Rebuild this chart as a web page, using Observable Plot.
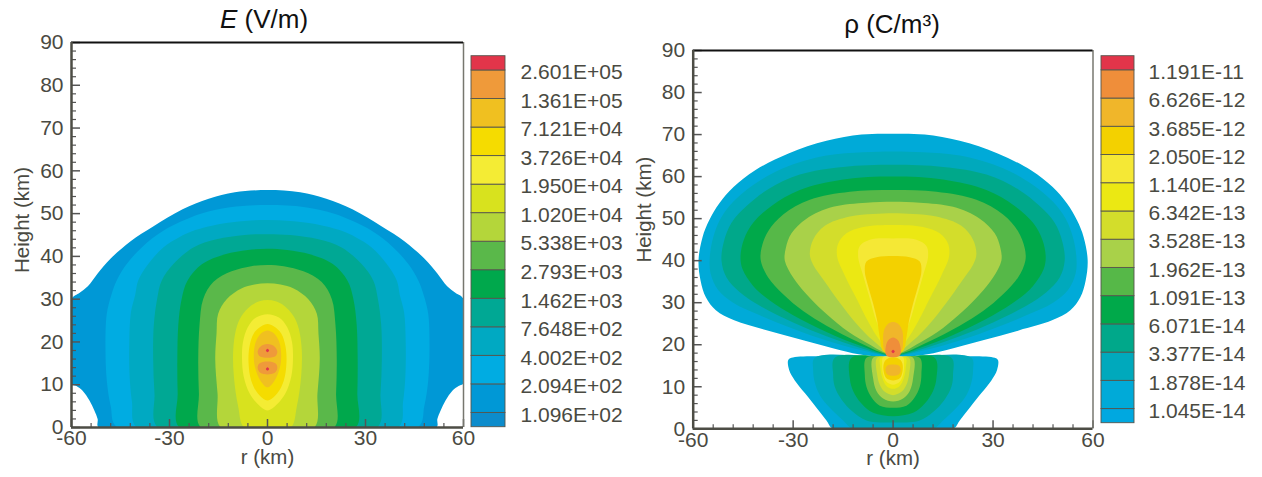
<!DOCTYPE html>
<html><head><meta charset="utf-8">
<script src="https://cdn.jsdelivr.net/npm/d3@7"></script>
<script src="https://cdn.jsdelivr.net/npm/@observablehq/plot@0.6"></script>
<style>
body{margin:0;background:#fff;}
#wrap{position:relative;width:1262px;height:477px;overflow:hidden;font-family:"Liberation Sans",Arial,Helvetica,sans-serif;}
#wrap > *{position:absolute;}
.title{font-size:26px;line-height:26px;color:#111;white-space:nowrap;transform:translateX(-50%);}
</style></head><body><div id="wrap"></div>
<script>
// ---------- tick values ----------
const xMajor = [-60, -30, 0, 30, 60];
const xMinor = [-54, -48, -42, -36, -24, -18, -12, -6, 6, 12, 18, 24, 36, 42, 48, 54];
const yMajor = [0, 10, 20, 30, 40, 50, 60, 70, 80, 90];
const yMinor = [2,4,6,8,12,14,16,18,22,24,26,28,32,34,36,38,42,44,46,48,52,54,56,58,62,64,66,68,72,74,76,78,82,84,86,88];

// ---------- E (V/m) colour levels (bottom -> top) ----------
const eLabels = ["1.096E+02","2.094E+02","4.002E+02","7.648E+02","1.462E+03","2.793E+03","5.338E+03","1.020E+04","1.950E+04","3.726E+04","7.121E+04","1.361E+05","2.601E+05"];
const eColors = ["#0c8ccc","#0098d6","#00ace2","#00a9c2","#00a894","#00a84c","#5ab84a","#b4d63a","#d8e21e","#f4ec34","#f5dc00","#f0c020","#ef9a3a","#e2354a"];

// ---------- rho (C/m3) colour levels (bottom -> top) ----------
const rLabels = ["1.045E-14","1.878E-14","3.377E-14","6.071E-14","1.091E-13","1.962E-13","3.528E-13","6.342E-13","1.140E-12","2.050E-12","3.685E-12","6.626E-12","1.191E-11"];
const rColors = ["#00a8e0","#00aad8","#00a9bc","#00a88a","#00a94a","#56b848","#a9d149","#d3dd2b","#ebe813","#f5e835","#f3d100","#f0b62a","#ef8e3a","#e2354a"];

// ---------- E field: contour outlines (right half, [r km, height km]) ----------
const eOutlineLevel = [1,2,3,4,5,6,7,8,9,10,11,12,12,13,13];
const eOutlines = [
  [[0,0],[51.7,0],[52,2],[53,4],[54.5,6.3],[56.6,8.6],[58.5,9.7],[60,10.3],[60,30],[57.5,31.5],[55,33],[52,36],[48,39.5],[42,43.5],[35,47],[26,51],[18,53.5],[10,55],[0,55.5]],
  [[0,0],[46,0],[48,5],[49.2,11],[49.6,19],[49.2,26.6],[47.8,31],[46.2,34.3],[43.1,38.2],[38.5,42.1],[31.9,46],[20.7,49.9],[11.5,51.5],[0,52]],
  [[0,0],[40,0],[41.5,6],[42.2,12],[42.3,20],[41.8,27],[40.5,31],[39.6,34.3],[36.5,38.2],[31.9,42.1],[27,44.5],[22.7,46],[14.6,47.6],[7,48.3],[0,48.5]],
  [[0,0],[33.6,0],[34.6,8],[35,16],[34.8,24],[33.8,30],[32.4,34.3],[28.8,38.2],[22.7,42.1],[15.6,44],[7,45],[0,45.2]],
  [[0,0],[27,0],[27.5,8],[27.6,16],[27.3,24],[26.3,30],[24.5,34.3],[20,38.2],[13,40.5],[6,41.5],[0,41.8]],
  [[0,0],[20.4,0],[21,8],[21.2,16],[20.8,24],[19.7,30],[16.6,34],[11,36.5],[5,37.7],[0,38]],
  [[0,0],[14.3,0],[15.3,8],[16,16],[15.6,22],[15.1,26.6],[12.5,30],[8,32.5],[4,33.4],[0,33.7]],
  [[0,0],[7.1,0],[9,5],[10.3,12],[10.5,18],[9.6,23],[8,26],[5,28.5],[2.5,29.5],[0,29.8]],
  [[0,4],[3,5.5],[5.5,8],[7.3,12],[7.8,16],[7.5,20],[6,23.5],[3.5,25.7],[0,26.5]],
  [[0,6.3],[3,8],[5,11],[5.8,15],[5.5,19],[4.2,22],[2,23.6],[0,24.2]],
  [[0,9.4],[2.2,11],[3.8,14],[4.2,17],[3.6,20],[2,22],[0,22.7]],
  [[0,12.4],[2.2,12.8],[3,13.8],[2.6,14.9],[0,15.4]],
  [[0,16.3],[2.6,16.8],[3,17.8],[2.2,18.9],[0,19.5]],
  [[0,13.3],[0.5,13.7],[0,14.1]],
  [[0,17.6],[0.5,18],[0,18.4]]
];

// ---------- rho: contour outlines (right half, [r km, height km]) ----------
const rOutlineLevel = [1,2,3,4,5,6,7,8,9,10,11, 1,2,3,4,5,6,7,8,9,10, 11,12,13];
const rOutlines = [
  // lower lobe
  [[0,0],[18,0],[20,2],[23,5],[26.5,8.5],[29.5,11.5],[31.2,14],[31.5,16.3],[30.5,16.9],[0,16.9]],
  [[0,0],[12,0],[15,2],[19,5],[22,8],[23.5,11],[24,14],[23.5,16.9],[0,16.9]],
  [[0,1.5],[8,2],[12,4],[15.5,7],[17.5,10],[18,13],[17.5,16.9],[0,16.9]],
  [[0,3],[6,3.8],[9.5,6],[12,9],[13,12],[12.5,16.9],[0,16.9]],
  [[0,5],[4,5.5],[6.5,7.5],[8,10],[8.5,13],[8,16.9],[0,16.9]],
  [[0,6.5],[3,7.2],[5,9],[6,12],[6,16.9],[0,16.9]],
  [[0,8],[2.5,8.8],[4,10.5],[4.8,13],[4.8,16.9],[0,16.9]],
  [[0,9.5],[2,10.2],[3.2,12],[3.8,14.5],[3.8,16.9],[0,16.9]],
  [[0,10.5],[2,11.2],[3,13],[3.3,15.5],[3,17],[0,17.2]],
  [[0,11.5],[2,12],[2.8,13.5],[2.8,15.5],[2,16.5],[0,17]],
  [[0,12.6],[1.8,13],[2.3,14],[1.8,15],[0,15.3]],
  // upper lobe
  [[0,17.2],[8.5,17.5],[15.8,18.7],[26.7,21],[37.7,23.4],[47.7,25.8],[53.2,28.2],[56.2,31.3],[57.8,35.3],[58.4,40.1],[57.2,45.6],[55.2,49.6],[52.2,53.6],[47.9,57.5],[41.4,61.5],[31.4,65.5],[20,68.5],[9.5,70],[0,70.2]],
  [[0,17.3],[10,18.8],[20,21],[30,23.8],[40,27],[48,30],[52.5,33],[54.8,37],[55,41],[54,45.5],[51.8,50],[48,54],[42,58],[33,62],[20,65],[9,65.8],[0,66]],
  [[0,17.4],[10,19.3],[20,22],[30,25.3],[40,29.3],[46,32.5],[50,36],[51.5,40],[50.8,44.5],[48.5,49],[44,53],[37.5,57],[28,60.5],[15,62.3],[0,62.8]],
  [[0,17.5],[10,19.8],[20,23],[30,27],[37,30.5],[42,34],[45.2,38],[45.8,41],[44.8,45],[42,49],[36.5,53],[28,56.8],[15,59.3],[0,60]],
  [[0,17.6],[10,20.5],[20,24.5],[27,28],[33,32],[37.5,36],[39.7,40],[39.5,43],[37.5,47],[33,51],[25,54.5],[13,56.4],[0,56.8]],
  [[0,17.7],[8,20.5],[15,24],[21,28],[26,32],[30,36],[32.5,40],[32.2,43],[30.5,46.5],[26,50],[18,52.8],[8,53.8],[0,54]],
  [[0,17.8],[6,21],[11,25],[16,30],[20.5,35],[24,39],[25,41.5],[24,45],[20.5,48.3],[13,50.5],[6,51.1],[0,51.3]],
  [[0,18],[4,21],[7.5,25.5],[11,31],[14.5,36.5],[16.8,41],[16.5,44],[14,46.5],[9,48],[0,48.5]],
  [[0,18],[2.5,21],[5,25.5],[7,31],[9,36.5],[10.5,41],[10,43.5],[7,45],[0,45.3]],
  [[0,17.5],[3,18.5],[4,21.8],[4.8,25.8],[6,29.8],[7.5,34],[8.5,37.5],[8,39.8],[5,40.8],[0,41.1]],
  [[0,17.5],[2.5,18.5],[3,21],[2.7,23.5],[1.5,25],[0,25.4]],
  [[0,17],[2.1,17.5],[2.2,19.5],[1.5,21],[0,21.7]],
  [[0,18],[0.5,18.4],[0,18.8]]
];

// ---------- build tables ----------
function outlineRows(levels, outlines) {
  const rows = [];
  outlines.forEach((half, i) => {
    const pts = half.concat(half.slice(1, -1).reverse().map(([r, h]) => [-r, h]));
    for (const [r, h] of pts) rows.push({id: i, level: levels[i], r, h});
  });
  const order = d3.range(outlines.length).sort((a, b) => levels[a] - levels[b] || a - b);
  const rank = new Map(order.map((id, k) => [id, k]));
  return rows.sort((a, b) => rank.get(a.id) - rank.get(b.id));
}

const FONT = '"Liberation Sans", Arial, Helvetica, sans-serif';
const INK = "#4a4a42";
const fmt = d => String(d);

function panel({rows, colors, left, width, mTop, mBottom, mLeft, mRight, yLabelDy}) {
  const svg = Plot.plot({
    width, height: 477,
    marginLeft: mLeft, marginRight: mRight, marginTop: mTop, marginBottom: mBottom,
    x: {domain: [xMajor[0], xMajor[xMajor.length - 1]], label: null},
    y: {domain: [yMajor[0], yMajor[yMajor.length - 1]], label: null},
    color: {type: "ordinal", domain: d3.range(colors.length), range: colors},
    style: {fontFamily: FONT, fontSize: "21px", color: INK, background: "transparent", overflow: "visible"},
    marks: [
      Plot.line(rows, {x: "r", y: "h", z: "id", fill: "level", stroke: "none", curve: "catmull-rom-closed", clip: true}),
      Plot.axisX(xMinor, {tickSize: -4, tickFormat: () => "", stroke: "#555", strokeWidth: 1.2}),
      Plot.axisX(xMajor, {tickSize: -8, tickPadding: 11, tickFormat: fmt, stroke: "#555", strokeWidth: 1.5, fill: INK, fontSize: 21}),
      Plot.axisY(yMinor, {tickSize: -5, tickFormat: () => "", stroke: "#555", strokeWidth: 1.2}),
      Plot.axisY(yMajor, {tickSize: -9, tickPadding: 17, tickFormat: fmt, stroke: "#555", strokeWidth: 1.5, fill: INK, fontSize: 21}),
      Plot.ruleX([xMajor[xMajor.length - 1]], {stroke: "#77776f", strokeWidth: 1.5}),
      Plot.ruleY([yMajor[yMajor.length - 1]], {stroke: "#111", strokeWidth: 2}),
      Plot.ruleX([xMajor[0]], {stroke: "#4d4d45", strokeWidth: 2.5}),
      Plot.ruleY([yMajor[0]], {stroke: "#4d4d45", strokeWidth: 2.5}),
      Plot.text(["r (km)"], {frameAnchor: "bottom", dy: 36, fontSize: 20.5, fill: INK}),
      Plot.text(["Height (km)"], {frameAnchor: "left", textAnchor: "middle", dx: -49, dy: yLabelDy, rotate: -90, fontSize: 20.5, fill: INK})
    ]
  });
  svg.style.left = left + "px";
  svg.style.top = "0px";
  return svg;
}

function colorbar({labels, colors, left, top, bottom, boxW, labelDx}) {
  const boxes = colors.map((c, i) => ({level: i, y1: Math.max(0, i - 0.5), y2: Math.min(labels.length, i + 0.5)}));
  const ticks = labels.map((t, j) => ({t, y: j + 0.5}));
  const svg = Plot.plot({
    width: 170, height: 477,
    marginLeft: 1, marginRight: 170 - 1 - boxW, marginTop: top, marginBottom: 477 - bottom,
    x: {domain: [0, 1], axis: null},
    y: {domain: [0, labels.length], axis: null},
    color: {type: "ordinal", domain: d3.range(colors.length), range: colors},
    style: {fontFamily: FONT, background: "transparent", overflow: "visible"},
    marks: [
      Plot.rect(boxes, {x1: 0, x2: 1, y1: "y1", y2: "y2", fill: "level", stroke: "#55554d", strokeWidth: 0.9}),
      Plot.text(ticks, {x: 1, y: "y", text: "t", textAnchor: "start", dx: labelDx, dy: 2, fontSize: 21, fill: INK})
    ]
  });
  svg.style.left = (left - 1) + "px";
  svg.style.top = "0px";
  return svg;
}

const wrap = document.getElementById("wrap");
wrap.append(panel({rows: outlineRows(eOutlineLevel, eOutlines), colors: eColors, left: 0, width: 470, mTop: 42, mBottom: 50, mLeft: 71, mRight: 7, yLabelDy: -15}));
wrap.append(panel({rows: outlineRows(rOutlineLevel, rOutlines), colors: rColors, left: 620, width: 480, mTop: 50, mBottom: 48.7, mLeft: 72.7, mRight: 7.5, yLabelDy: -30}));
wrap.append(colorbar({labels: eLabels, colors: eColors, left: 471, top: 55.7, bottom: 426.7, boxW: 34, labelDx: 15}));
wrap.append(colorbar({labels: rLabels, colors: rColors, left: 1100.7, top: 55.7, bottom: 422.7, boxW: 33, labelDx: 14}));

const t1 = document.createElement("div");
t1.className = "title"; t1.innerHTML = "<i>E</i> (V/m)";
t1.style.left = "264px"; t1.style.top = "6px";
const t2 = document.createElement("div");
t2.className = "title"; t2.textContent = "ρ (C/m³)";
t2.style.left = "892px"; t2.style.top = "11px";
wrap.append(t1, t2);
</script></body></html>
